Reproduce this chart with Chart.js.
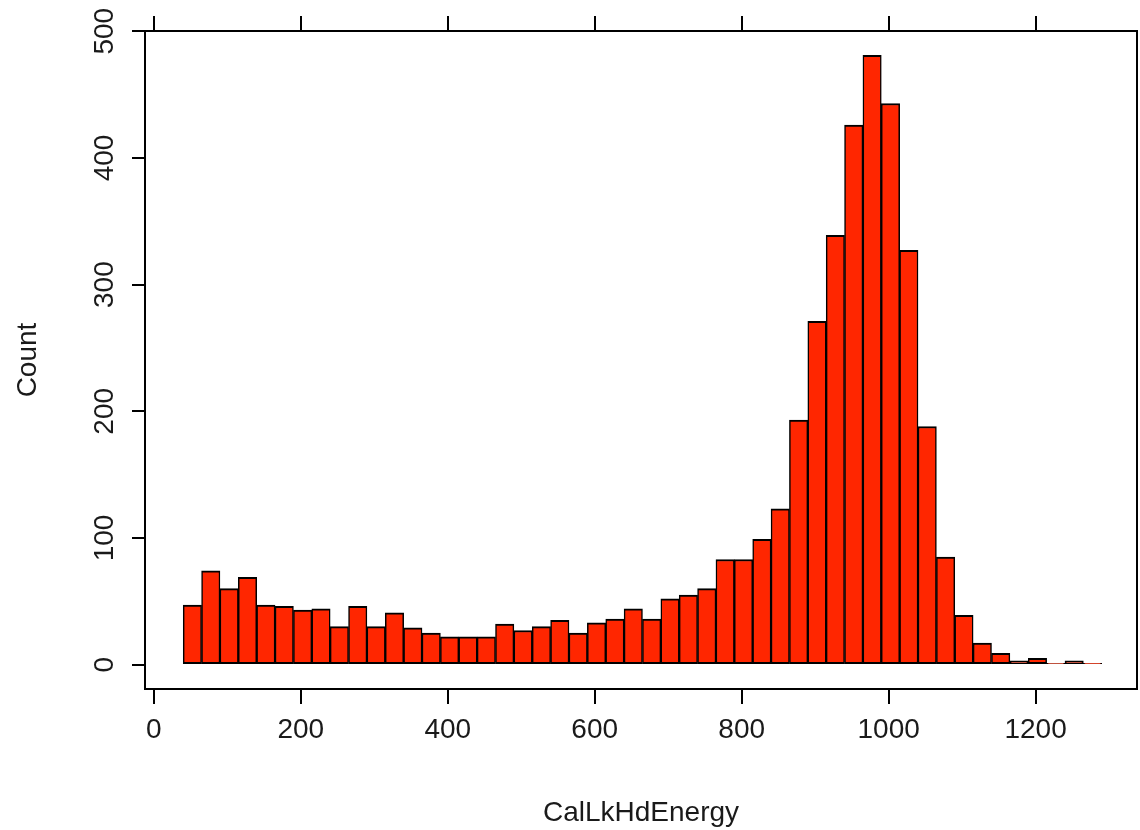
<!DOCTYPE html>
<html>
<head>
<meta charset="utf-8">
<title>CalLkHdEnergy histogram</title>
<script src="https://cdn.jsdelivr.net/npm/chart.js@4.4.1/dist/chart.umd.min.js"></script>
<style>
    html, body { margin: 0; padding: 0; background: #fff; overflow: hidden; }
    #wrap { width: 1140px; height: 830px; position: relative; }
</style>
</head>
<body>
<div id="wrap"><canvas id="hist"></canvas></div>
<script>
// Bin centres (bins are 25 wide, from 40 to 1290)
const binCenters = [
    52.5, 77.5, 102.5, 127.5, 152.5, 177.5, 202.5, 227.5, 252.5, 277.5,
    302.5, 327.5, 352.5, 377.5, 402.5, 427.5, 452.5, 477.5, 502.5, 527.5,
    552.5, 577.5, 602.5, 627.5, 652.5, 677.5, 702.5, 727.5, 752.5, 777.5,
    802.5, 827.5, 852.5, 877.5, 902.5, 927.5, 952.5, 977.5, 1002.5, 1027.5,
    1052.5, 1077.5, 1102.5, 1127.5, 1152.5, 1177.5, 1202.5, 1227.5, 1252.5, 1277.5
];

// Counts
const counts = [
    47, 74, 60, 69, 47, 46, 43, 44, 30, 46,
    30, 41, 29, 25, 22, 22, 22, 32, 27, 30,
    35, 25, 33, 36, 44, 36, 52, 55, 60, 83,
    83, 99, 123, 193, 271, 339, 426, 481, 443, 327,
    188, 85, 39, 17, 9, 3, 5, 1, 3, 1
];

const xTicks = [0, 200, 400, 600, 800, 1000, 1200];
const yTicks = [0, 100, 200, 300, 400, 500];

const xTitle = 'CalLkHdEnergy';
const yTitle = 'Count';

const FONT = "'Liberation Sans', Arial, sans-serif";
const INK = '#1a1a1a';

Chart.defaults.font.family = FONT;
Chart.defaults.color = INK;

const points = binCenters.map((x, i) => ({ x: x, y: counts[i] }));

// plain numbers, no thousands separator
const plain = v => String(v);

new Chart(document.getElementById('hist'), {
    type: 'bar',
    data: {
        datasets: [{
            data: points,
            backgroundColor: '#ff2600',
            borderColor: '#000',
            borderWidth: { top: 2, bottom: 2, left: 1.5, right: 1.5 },
            borderSkipped: false,
            barPercentage: 1,
            categoryPercentage: 1
        }]
    },
    options: {
        responsive: true,
        maintainAspectRatio: false,
        animation: false,
        layout: { padding: 0 },
        plugins: {
            legend: { display: false },
            tooltip: { enabled: false }
        },
        scales: {
            x: {
                type: 'linear',
                position: 'bottom',
                min: -12,
                max: 1338,
                offset: false,
                afterFit: s => { s.height = 141; },
                afterBuildTicks: s => { s.ticks = xTicks.map(v => ({ value: v })); },
                grid: { offset: false, drawOnChartArea: false, drawTicks: true, tickLength: 15, color: '#000', lineWidth: 2 },
                border: { display: true, color: '#000', width: 2 },
                ticks: { font: { size: 28 }, color: INK, padding: 9, maxRotation: 0, minRotation: 0, callback: plain },
                title: { display: true, text: xTitle, font: { size: 28 }, color: INK, padding: { top: 0, bottom: 0 } }
            },
            xTop: {
                type: 'linear',
                position: 'top',
                min: -12,
                max: 1338,
                offset: false,
                afterFit: s => { s.height = 31; },
                afterBuildTicks: s => { s.ticks = xTicks.map(v => ({ value: v })); },
                grid: { offset: false, drawOnChartArea: false, drawTicks: true, tickLength: 15, color: '#000', lineWidth: 2 },
                border: { display: true, color: '#000', width: 2 },
                ticks: { display: false }
            },
            y: {
                type: 'linear',
                position: 'left',
                min: -19.2,
                max: 500.2,
                afterFit: s => { s.width = 145; },
                afterBuildTicks: s => { s.ticks = yTicks.map(v => ({ value: v })); },
                grid: { drawOnChartArea: false, drawTicks: true, tickLength: 13, color: '#000', lineWidth: 2 },
                border: { display: true, color: '#000', width: 2 },
                ticks: { font: { size: 28 }, color: INK, padding: 3, minRotation: 90, maxRotation: 90, crossAlign: 'center', callback: plain },
                title: { display: true, text: yTitle, font: { size: 28 }, color: INK, padding: { top: 11, bottom: 0 } }
            },
            yRight: {
                type: 'linear',
                position: 'right',
                min: -19.2,
                max: 500.2,
                afterFit: s => { s.width = 3; },
                grid: { display: false, drawTicks: false },
                border: { display: true, color: '#000', width: 2 },
                ticks: { display: false }
            }
        }
    }
});
</script>
</body>
</html>
